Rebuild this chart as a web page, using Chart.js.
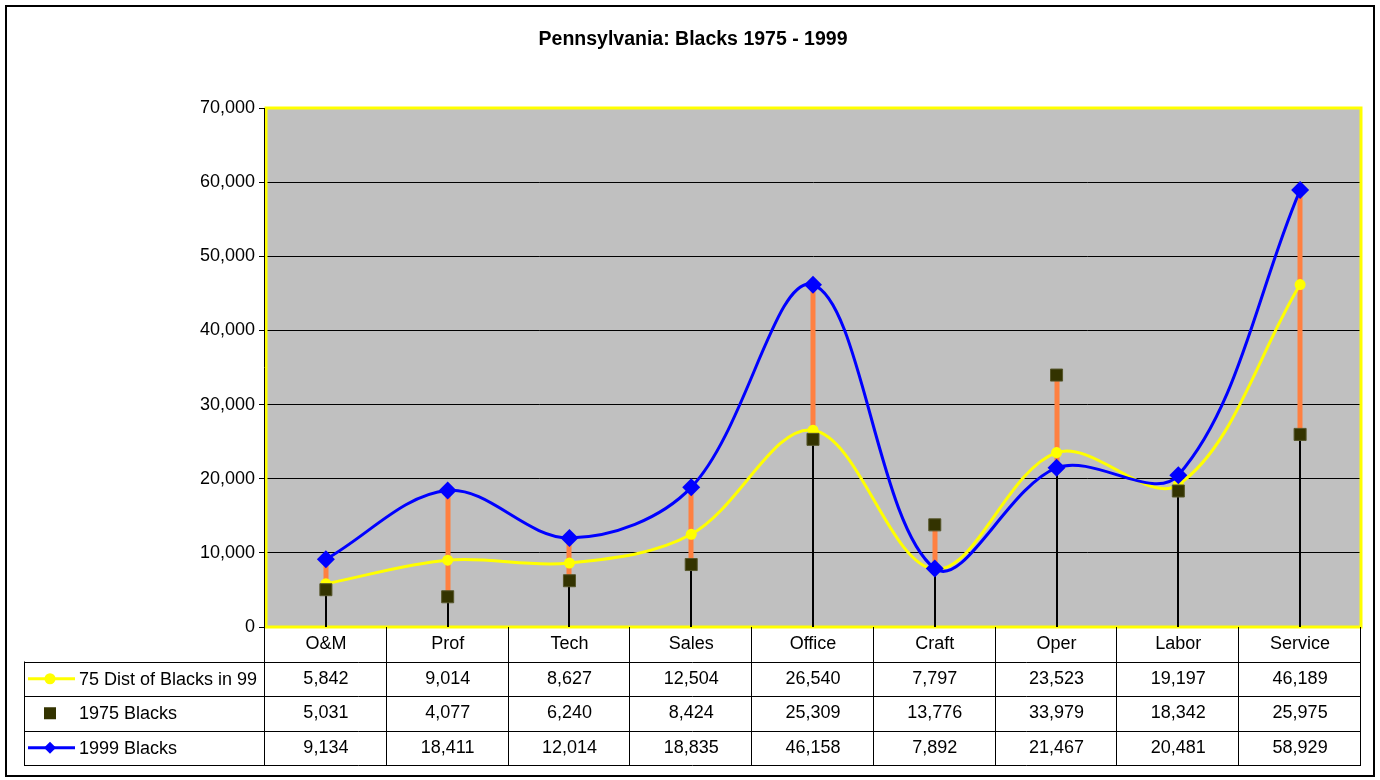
<!DOCTYPE html>
<html>
<head>
<meta charset="utf-8">
<script src="https://cdn.jsdelivr.net/npm/chart.js@4.4.0/dist/chart.umd.min.js"></script>
<style>
  html, body { margin: 0; padding: 0; background: #fff; }
  #wrap { width: 1380px; height: 780px; }
</style>
</head>
<body>
<div id="wrap"><canvas id="chart" width="1380" height="780"></canvas></div>
<script>
// données
const categories = ["O&M", "Prof", "Tech", "Sales", "Office", "Craft", "Oper", "Labor", "Service"];
const dist75in99 = [5842, 9014, 8627, 12504, 26540, 7797, 23523, 19197, 46189];
const blacks1975 = [5031, 4077, 6240, 8424, 25309, 13776, 33979, 18342, 25975];
const blacks1999 = [9134, 18411, 12014, 18835, 46158, 7892, 21467, 20481, 58929];
const seriesLabels = ["75 Dist of Blacks in 99", "1975 Blacks", "1999 Blacks"];
const yMax = 70000, yStep = 10000;

const FONT = "'Liberation Sans', Arial, sans-serif";
const ROW_H = 34.5;

// fond, bordure jaune, lignes haut-bas, tableau
const framePlugin = {
  id: "frame",
  beforeDraw(chart) {
    const { ctx, chartArea: a } = chart;
    ctx.save();
    ctx.fillStyle = "#fff";
    ctx.fillRect(0, 0, chart.width, chart.height);
    ctx.fillStyle = "#c0c0c0";
    ctx.fillRect(a.left, a.top, a.width, a.height);
    ctx.restore();
  },
  beforeDatasetsDraw(chart) {
    const { ctx, chartArea: a, scales: { x, y } } = chart;
    ctx.save();
    ctx.strokeStyle = "#ffff00";
    ctx.lineWidth = 3;
    ctx.strokeRect(a.left + 1, a.top, a.width - 1, a.height);
    ctx.strokeStyle = "#000";
    ctx.lineWidth = 1;
    ctx.beginPath();
    ctx.moveTo(a.left - 0.5, a.top); ctx.lineTo(a.left - 0.5, a.bottom);
    ctx.stroke();

    categories.forEach((c, i) => {
      const vals = [dist75in99[i], blacks1975[i], blacks1999[i]];
      const px = Math.round(x.getPixelForValue(i));
      const hi = y.getPixelForValue(Math.max(...vals));
      const lo = y.getPixelForValue(Math.min(...vals));
      ctx.strokeStyle = "#000";
      ctx.lineWidth = 2;
      ctx.beginPath(); ctx.moveTo(px, lo); ctx.lineTo(px, a.bottom); ctx.stroke();
      ctx.strokeStyle = "#ff8040";
      ctx.lineWidth = 5;
      ctx.beginPath(); ctx.moveTo(px, hi); ctx.lineTo(px, lo); ctx.stroke();
    });
    ctx.restore();
  },
  afterDraw(chart) {
    const { ctx, chartArea: a, scales: { x } } = chart;
    ctx.save();
    // cadre extérieur
    ctx.strokeStyle = "#000";
    ctx.lineWidth = 2;
    ctx.strokeRect(6, 6, 1368, 770);

    // titre
    ctx.fillStyle = "#000";
    ctx.font = "bold 19.5px " + FONT;
    ctx.textAlign = "center";
    ctx.textBaseline = "middle";
    ctx.fillText("Pennsylvania: Blacks 1975 - 1999", 693, 40);

    // tableau de données
    const top = a.bottom, tableLeft = 24;
    const bottom = top + ROW_H * 4;
    const catW = a.width / categories.length;
    ctx.lineWidth = 1;
    ctx.strokeStyle = "#000";
    ctx.beginPath();
    for (let r = 1; r <= 4; r++) {
      const yy = Math.round(top + ROW_H * r) + 0.5;
      ctx.moveTo(tableLeft, yy); ctx.lineTo(a.right, yy);
    }
    ctx.moveTo(tableLeft + 0.5, top + ROW_H); ctx.lineTo(tableLeft + 0.5, bottom);
    for (let i = 0; i <= categories.length; i++) {
      const xx = Math.round(a.left + catW * i) - 0.5;
      ctx.moveTo(xx, top); ctx.lineTo(xx, bottom);
    }
    ctx.stroke();

    ctx.font = "18px " + FONT;
    ctx.textAlign = "center";
    const rows = [dist75in99, blacks1975, blacks1999];
    categories.forEach((c, i) => {
      const px = x.getPixelForValue(i);
      ctx.fillText(c, px, top + ROW_H / 2);
      rows.forEach((row, r) => {
        ctx.fillText(row[i].toLocaleString("en-US"), px, top + ROW_H * (r + 1.5));
      });
    });

    // légende dans le tableau
    ctx.textAlign = "left";
    const mx = 50;
    rows.forEach((row, r) => {
      const cy = top + ROW_H * (r + 1.5);
      if (r === 0) {
        ctx.strokeStyle = "#ffff00"; ctx.lineWidth = 3;
        ctx.beginPath(); ctx.moveTo(28, cy); ctx.lineTo(75, cy); ctx.stroke();
        ctx.fillStyle = "#ffff00";
        ctx.beginPath(); ctx.arc(mx, cy, 5.5, 0, Math.PI * 2); ctx.fill();
      } else if (r === 1) {
        ctx.fillStyle = "#333300";
        ctx.fillRect(mx - 6, cy - 6, 12, 12);
      } else {
        ctx.strokeStyle = "#0000ff"; ctx.lineWidth = 3;
        ctx.beginPath(); ctx.moveTo(28, cy); ctx.lineTo(75, cy); ctx.stroke();
        ctx.fillStyle = "#0000ff";
        ctx.beginPath();
        ctx.moveTo(mx, cy - 6); ctx.lineTo(mx + 6, cy); ctx.lineTo(mx, cy + 6); ctx.lineTo(mx - 6, cy);
        ctx.closePath(); ctx.fill();
      }
      ctx.fillStyle = "#000";
      ctx.fillText(seriesLabels[r], 79, cy + 1);
    });
    ctx.restore();
  }
};

new Chart(document.getElementById("chart"), {
  type: "line",
  data: {
    labels: categories,
    datasets: [
      {
        label: seriesLabels[0], data: dist75in99, order: 2,
        borderColor: "#ffff00", backgroundColor: "#ffff00", borderWidth: 3,
        tension: 0.35, pointStyle: "circle", pointRadius: 5.5, pointBorderWidth: 0,
      },
      {
        label: seriesLabels[1], data: blacks1975, order: 1, showLine: false,
        backgroundColor: "#333300", borderColor: "#55552a", pointBorderWidth: 1,
        pointStyle: "rect", pointRadius: 8.5,
      },
      {
        label: seriesLabels[2], data: blacks1999, order: 0,
        borderColor: "#0000ff", backgroundColor: "#0000ff", borderWidth: 3,
        tension: 0.35, pointStyle: "rectRot", pointRadius: 9, pointBorderWidth: 0,
      },
    ]
  },
  options: {
    responsive: false,
    animation: false,
    devicePixelRatio: 1,
    layout: { padding: { left: 0, top: 108, right: 19, bottom: 153 } },
    plugins: { legend: { display: false }, tooltip: { enabled: false } },
    scales: {
      x: { type: "category", display: false, offset: true },
      y: {
        min: 0, max: yMax,
        afterFit: s => { s.width = 265; },
        ticks: {
          stepSize: yStep, color: "#000", padding: 4,
          font: { family: FONT, size: 18 },
          callback: v => v.toLocaleString("en-US"),
        },
        grid: { color: "#000", lineWidth: 1, tickLength: 6, tickColor: "#000" },
        border: { display: true, color: "#000" },
      }
    }
  },
  plugins: [framePlugin]
});
</script>
</body>
</html>
